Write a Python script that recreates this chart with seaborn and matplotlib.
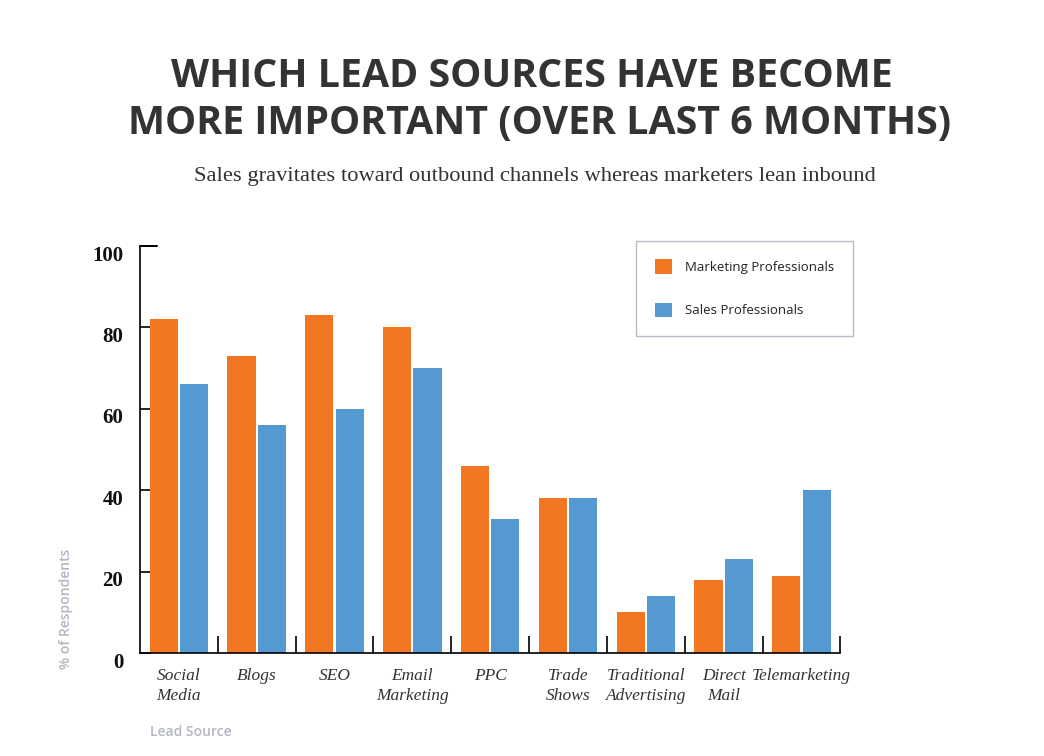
import pandas as pd
import seaborn as sns
import matplotlib.pyplot as plt
from matplotlib.transforms import ScaledTranslation

sources = ['Social\nMedia', 'Blogs', 'SEO', 'Email\nMarketing', 'PPC', 'Trade\nShows',
           'Traditional\nAdvertising', 'Direct\nMail', 'Telemarketing']
marketing = [82, 73, 83, 80, 46, 38, 10, 18, 19]
sales = [66, 56, 60, 70, 33, 38, 14, 23, 40]
groups = ['Marketing Professionals', 'Sales Professionals']
colors = ['#F37722', '#5599D3']

df = pd.DataFrame({
    'Lead Source': sources * 2,
    'Percent': marketing + sales,
    'Group': [groups[0]] * len(sources) + [groups[1]] * len(sources),
})

sns.set_style('white')
plt.rcParams['font.family'] = ['DejaVu Sans']

fig = plt.figure(figsize=(10.44, 7.56), dpi=100)
ax = fig.add_axes([0.134, 0.1362, 0.671, 0.5384])

sns.barplot(data=df, x='Lead Source', y='Percent', hue='Group', palette=colors,
            width=0.78, gap=0.07, saturation=1, ax=ax, linewidth=0)

ax.set_xlim(-0.5, len(sources) - 0.5)
ax.set_ylim(0, 100)
ax.set_xticks(range(len(sources)))
ax.set_xticklabels(sources, family='Liberation Serif', style='italic', fontsize=12.5,
                   color='#333333', linespacing=1.3)
ax.set_xticks([i + 0.5 for i in range(len(sources))], minor=True)
ax.tick_params(axis='x', which='major', length=0, pad=11)
ax.tick_params(axis='x', which='minor', direction='in', length=12, width=1.2,
               color='black', bottom=True)
ax.tick_params(axis='y', direction='in', length=8, width=1.2, color='black', pad=12, left=True)
ax.set_yticks([0, 20, 40, 60, 80, 100])
ax.set_yticklabels(['0', '20', '40', '60', '80', '100'], family='Liberation Serif',
                   fontweight='bold', fontsize=15, color='#111111')
# labels sit a little below their ticks in the original
off = ScaledTranslation(0, -7 / 100, fig.dpi_scale_trans)
for lab in ax.get_yticklabels():
    lab.set_transform(lab.get_transform() + off)
ax.axhline(100, xmin=0, xmax=0.025, color='black', lw=1.4, clip_on=False)

for s in ['top', 'right']:
    ax.spines[s].set_visible(False)
for s in ['left', 'bottom']:
    ax.spines[s].set_color('black')
    ax.spines[s].set_linewidth(1.2)

ax.set_xlabel('')
ax.set_ylabel('')
fig.text(0.144, 0.032, 'Lead Source', family='Open Sans', fontweight='semibold',
         fontsize=10, color='#b3b6c2', ha='left', va='center')
fig.text(0.063, 0.195, '% of Respondents', family='Open Sans', fontweight='semibold',
         fontsize=10, color='#b3b6c2', rotation=90, ha='center', va='center')

leg = ax.legend(loc='upper right', bbox_to_anchor=(1.018, 1.013), frameon=True,
                fancybox=False, edgecolor='#a4aab8', fontsize=9.5, borderpad=1.4,
                labelspacing=2.2, handlelength=1.3, handleheight=1.3, handletextpad=1.0,
                borderaxespad=0)
for t in leg.get_texts():
    t.set_family('Open Sans')
    t.set_color('#222222')
leg.get_frame().set_linewidth(1.0)

fig.text(0.509, 0.899, 'WHICH LEAD SOURCES HAVE BECOME', family='Open Sans',
         fontweight='bold', fontsize=28.4, color='#333333', ha='center', va='center')
fig.text(0.517, 0.837, 'MORE IMPORTANT (OVER LAST 6 MONTHS)', family='Open Sans',
         fontweight='bold', fontsize=28.4, color='#333333', ha='center', va='center')
fig.text(0.512, 0.767, 'Sales gravitates toward outbound channels whereas marketers lean inbound',
         family='Liberation Serif', fontsize=16.2, color='#333333', ha='center', va='center')

plt.savefig('out.png', dpi=100)
